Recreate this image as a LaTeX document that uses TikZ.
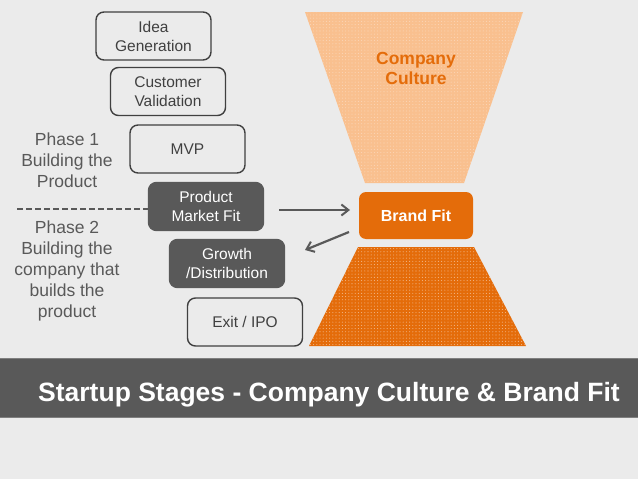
\documentclass[tikz,border=0pt]{standalone}
\usepackage{fontspec}
\setmainfont{Liberation Sans}
\usetikzlibrary{arrows.meta,patterns}
\pgfdeclarepatternformonly{sparsedots}{\pgfqpoint{-1pt}{-1pt}}{\pgfqpoint{3pt}{3pt}}{\pgfqpoint{3.2pt}{3.2pt}}{%
  \pgfpathcircle{\pgfqpoint{0pt}{0pt}}{0.55pt}\pgfusepath{fill}}
\definecolor{bg}{HTML}{EBEBEB}
\definecolor{dk}{HTML}{595959}
\definecolor{txt}{HTML}{404040}
\definecolor{lo}{HTML}{F9C08F}
\definecolor{og}{HTML}{E46C0A}
\definecolor{bord}{HTML}{7F7F7F}
\tikzset{
  stage/.style={draw=txt, line width=1.4pt, rounded corners=8pt, minimum width=115pt, minimum height=48pt, align=center, text=txt, font=\fontsize{15.5}{19}\selectfont, inner sep=0pt},
  stagedark/.style={stage, fill=dk, draw=dk, text=white},
  phasetext/.style={align=center, text=dk, font=\fontsize{17.5}{21}\selectfont, inner sep=0pt},
  conn/.style={draw=dk, line width=2.2pt, -{Straight Barb[length=7pt,width=11pt,line width=2pt]}},
}
\begin{document}
\begin{tikzpicture}[x=1pt,y=-1pt]
\useasboundingbox (0,0) rectangle (638,479);
\fill[bg] (0,0) rectangle (638,479);
% banner
\fill[dk] (0,358) rectangle (638,418);
\draw[bord, line width=1pt] (0,358.5) -- (638,358.5);
\draw[bord, line width=1pt] (0,417.5) -- (638,417.5);
\node[anchor=base west, text=white, font=\fontsize{26.5}{30}\selectfont\bfseries, inner sep=0pt] (title) at (38,401) {Startup Stages - Company Culture \& Brand Fit};
% top funnel
\fill[lo] (305,12) -- (523,12) -- (464,183) -- (365,183) -- cycle;
\fill[pattern=sparsedots, pattern color=white!35!lo] (305,12) -- (523,12) -- (464,183) -- (365,183) -- cycle;
\node[align=center, text=og, font=\fontsize{17.5}{20}\selectfont\bfseries, inner sep=0pt] (culture) at (416,68) {Company\\Culture};
% bottom funnel
\fill[og] (358,247) -- (474,247) -- (526,346) -- (309,346) -- cycle;
\fill[pattern=sparsedots, pattern color=white!50!og] (358,247) -- (474,247) -- (526,346) -- (309,346) -- cycle;
% brand fit
\node[fill=og, rounded corners=7pt, minimum width=114pt, minimum height=47pt, text=white, font=\fontsize{16}{18}\selectfont\bfseries, inner sep=0pt] (brand) at (416,215.5) {Brand Fit};
% stages
\node[stage] (idea) at (153.5,36) {Idea\\Generation};
\node[stage] (cust) at (168,91.5) {Customer\\Validation};
\node[stage] (mvp) at (187.5,149) {MVP};
\node[stagedark] (pmf) at (206,206.5) {Product\\Market Fit};
\node[stagedark] (grow) at (227,263.5) {Growth\\/Distribution};
\node[stage] (exit) at (245,322) {Exit / IPO};
% phases
\node[phasetext] (ph1) at (67,160) {Phase 1\\Building the\\Product};
\node[phasetext] (ph2) at (67,271) {Phase 2\\Building the\\company that\\builds the\\product};
\coordinate (dashstart) at (17,209);
\draw[dk, line width=2.4pt, dash pattern=on 6pt off 3pt] (dashstart) -- (pmf.west |- dashstart);
% arrows
\coordinate (a1s) at (279,210);
\coordinate (a1e) at (350,210);
\draw[conn] (a1s) -- (a1e);
\coordinate (a2s) at (349,232);
\coordinate (a2e) at (305,250);
\draw[conn] (a2s) -- (a2e);
\end{tikzpicture}
\end{document}
